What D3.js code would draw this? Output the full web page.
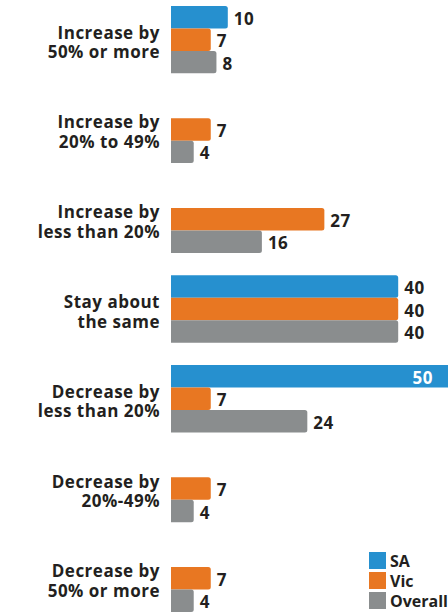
<!DOCTYPE html>
<html>
<head>
<meta charset="utf-8">
<script src="https://cdn.jsdelivr.net/npm/d3@7"></script>
<style>
  html, body { margin: 0; padding: 0; background: #fff; }
  svg { display: block; }
  text { font-family: "Open Sans", "Lato", sans-serif; font-weight: 700; fill: #231f20; }
</style>
</head>
<body>
<svg id="chart" width="448" height="614"></svg>
<script>
// Expected change categories (two-line labels)
const categories = [
  ["Increase by", "50% or more"],
  ["Increase by", "20% to 49%"],
  ["Increase by", "less than 20%"],
  ["Stay about", "the same"],
  ["Decrease by", "less than 20%"],
  ["Decrease by", "20%-49%"],
  ["Decrease by", "50% or more"]
];
const seriesNames = ["SA", "Vic", "Overall"];
const seriesColors = ["#2690cf", "#e87722", "#8a8d8e"];

// Percent of respondents; null = no response in that group
const saValues      = [10, null, null, 40, 50, null, null];
const vicValues     = [7, 7, 27, 40, 7, 7, 7];
const overallValues = [8, 4, 16, 40, 24, 4, 4];
const seriesValues = [saValues, vicValues, overallValues];

const width = 448, height = 614;
const svg = d3.select("#chart");

const catKeys = categories.map((c, i) => i);
const y = d3.scaleBand().domain(catKeys).range([6, 612]).paddingInner(0.25).paddingOuter(0);
const ySub = d3.scaleBand().domain(seriesNames).range([0, y.bandwidth()]);
const x = d3.scaleLinear().domain([0, 50]).range([171, 455]);

function barPath(x0, x1, y0, h, r) {
  r = Math.min(r, (x1 - x0) / 2);
  return `M${x0},${y0}H${x1 - r}Q${x1},${y0} ${x1},${y0 + r}V${y0 + h - r}Q${x1},${y0 + h} ${x1 - r},${y0 + h}H${x0}Z`;
}

const rows = [];
catKeys.forEach(ci => {
  seriesNames.forEach((s, si) => {
    const v = seriesValues[si][ci];
    if (v != null) rows.push({ ci, s, si, v });
  });
});

const g = svg.append("g");
g.selectAll("path.bar").data(rows).join("path")
  .attr("class", "bar")
  .attr("fill", d => seriesColors[d.si])
  .attr("d", d => barPath(x(0), x(d.v), y(d.ci) + ySub(d.s), ySub.bandwidth(), 2.5));

// Value labels: outside the bar end, or inside (white) if the bar runs off the edge
g.selectAll("text.val").data(rows).join("text")
  .attr("class", "val")
  .attr("font-size", 17)
  .attr("letter-spacing", 0.5)
  .attr("dominant-baseline", "central")
  .attr("y", d => y(d.ci) + ySub(d.s) + ySub.bandwidth() / 2 + 1)
  .each(function (d) {
    const t = d3.select(this).text(d.v);
    const end = x(d.v);
    if (end + 30 > width) {
      t.attr("x", width - 15).attr("text-anchor", "end").style("fill", "#fff");
    } else {
      t.attr("x", end + 6).attr("text-anchor", "start");
    }
  });

// Category labels, two lines centred on each group
const lineGap = 19.5;
const labels = svg.append("g").selectAll("text").data(categories).join("text")
  .attr("text-anchor", "end")
  .attr("font-size", 17)
  .attr("letter-spacing", 0.5);
labels.selectAll("tspan").data((d, i) => d.map((line, k) => ({ line, k, i }))).join("tspan")
  .attr("x", 160)
  .attr("y", d => y(d.i) + y.bandwidth() / 2 - 1 + d.k * lineGap)
  .text(d => d.line);

// Legend
const legend = svg.append("g").selectAll("g").data(seriesNames).join("g")
  .attr("transform", (d, i) => `translate(369,${552 + i * 20})`);
legend.append("rect").attr("width", 17).attr("height", 17)
  .attr("fill", (d, i) => seriesColors[i]);
legend.append("text").attr("x", 21).attr("y", 9).attr("dominant-baseline", "central")
  .attr("font-size", 16).text(d => d);
</script>
</body>
</html>
